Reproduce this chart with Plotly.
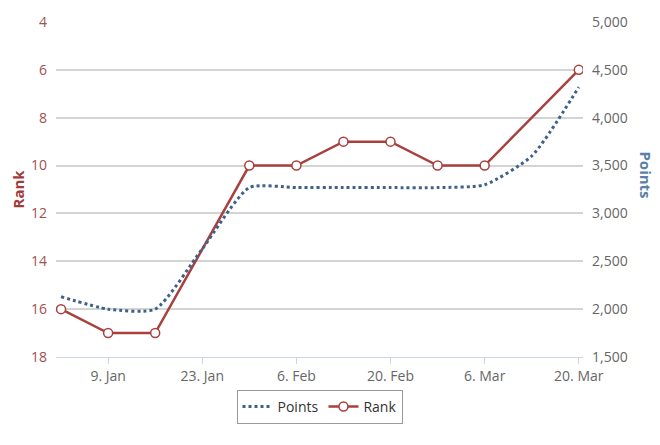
import plotly.graph_objects as go

rank_dates = ["2017-01-02", "2017-01-09", "2017-01-16", "2017-01-30", "2017-02-06",
              "2017-02-13", "2017-02-20", "2017-02-27", "2017-03-06", "2017-03-20"]
rank_values = [16, 17, 17, 10, 10, 9, 9, 10, 10, 6]

points_dates = ["2017-01-02", "2017-01-09", "2017-01-16", "2017-01-23", "2017-01-30",
                "2017-02-06", "2017-02-13", "2017-02-20", "2017-02-27", "2017-03-06",
                "2017-03-13", "2017-03-20"]
points_values = [2130, 2000, 2000, 2630, 3270, 3270, 3270, 3270, 3270, 3300, 3600, 4320]

tick_dates = ["2017-01-09", "2017-01-23", "2017-02-06", "2017-02-20", "2017-03-06", "2017-03-20"]
tick_labels = ["9. Jan", "23. Jan", "6. Feb", "20. Feb", "6. Mar", "20. Mar"]

RED = "#a8403e"
BLUE = "#3f6189"
FONT = "Open Sans, DejaVu Sans, sans-serif"

fig = go.Figure()
fig.add_trace(go.Scatter(
    x=points_dates, y=points_values, name="Points", yaxis="y2",
    mode="lines", line=dict(color=BLUE, width=3, dash="dot", shape="spline", smoothing=0.6),
))
fig.add_trace(go.Scatter(
    x=rank_dates, y=rank_values, name="Rank", yaxis="y",
    mode="lines+markers", line=dict(color=RED, width=2.5),
    marker=dict(symbol="circle", size=9, color="white", line=dict(color=RED, width=1.5)),
))

# page body has an 8px margin, so the figure is made 8px smaller on each offset side
fig.update_layout(
    width=652, height=437,
    margin=dict(l=48, r=77, t=14, b=88, autoexpand=False),
    paper_bgcolor="white", plot_bgcolor="white",
    font=dict(family=FONT, size=14, color="#666666"),
    showlegend=True,
    legend=dict(orientation="h", x=0.5, xanchor="center", y=-0.098, yanchor="top",
                bordercolor="#999999", borderwidth=1, font=dict(size=14, color="#333333"),
                traceorder="normal"),
    xaxis=dict(type="date", range=["2017-01-01 06:00", "2017-03-20 15:00"],
               tickvals=tick_dates, ticktext=tick_labels, automargin=False,
               showgrid=False, showline=True, linecolor="#ccd6eb", linewidth=1,
               ticks="outside", ticklen=6, tickcolor="#ccd6eb",
               tickfont=dict(size=14, color="#666666"), zeroline=False),
    yaxis=dict(range=[18, 4], dtick=2, tick0=4, showgrid=True, gridcolor="#d4d4d4",
               gridwidth=1.5, zeroline=False, showline=False, automargin=False,
               tickfont=dict(size=14, color="#a0524f"), ticklabelstandoff=8),
    yaxis2=dict(range=[1500, 5000], dtick=500, tick0=1500, overlaying="y", side="right",
                showgrid=False, zeroline=False, tickformat=",", automargin=False,
                tickfont=dict(size=14, color="#666666"), ticklabelstandoff=8),
    annotations=[
        dict(text="<b>Rank</b>", x=0, xref="paper", y=0.5, yref="paper", showarrow=False,
             textangle=-90, font=dict(size=15, color="#a33a3a"), xanchor="center",
             yanchor="middle", xshift=-39),
        dict(text="<b>Points</b>", x=1.0, xref="paper", y=0.545, yref="paper", showarrow=False,
             textangle=90, font=dict(size=15, color="#5b7fa6"), xanchor="center",
             yanchor="middle", xshift=63),
    ],
)

fig.write_html("out.html")
